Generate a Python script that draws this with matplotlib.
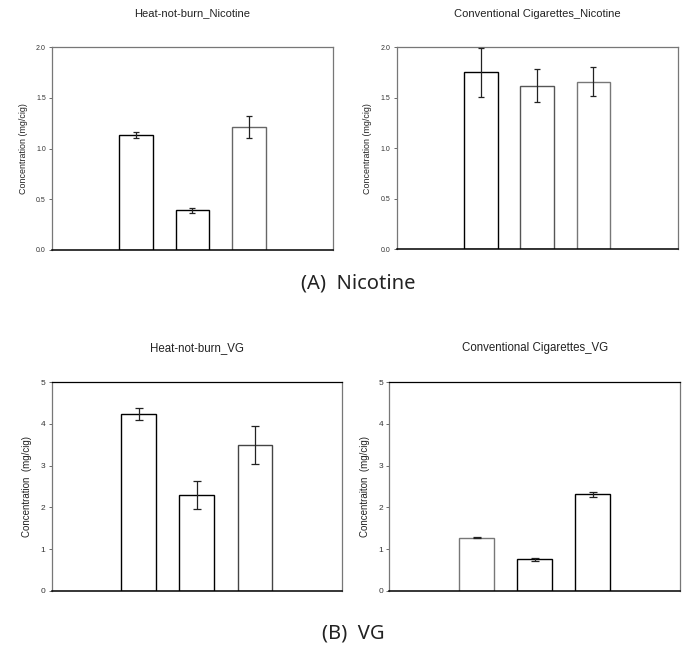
import matplotlib.pyplot as plt
import numpy as np

plt.rcParams['font.family'] = ['Liberation Sans', 'DejaVu Sans']

# données
pos = [1, 2, 3]

hnb_nic = [1.13, 0.39, 1.21]
hnb_nic_err = [0.03, 0.025, 0.11]
cc_nic = [1.75, 1.62, 1.66]
cc_nic_err = [0.245, 0.16, 0.14]

hnb_vg = [4.23, 2.29, 3.50]
hnb_vg_err = [0.14, 0.34, 0.45]
cc_vg = [1.27, 0.76, 2.31]
cc_vg_err = [0.01, 0.04, 0.05]

nic_ticks = [0.0, 0.5, 1.0, 1.5, 2.0]
vg_ticks = [0, 1, 2, 3, 4, 5]

fig = plt.figure(figsize=(6.93, 6.63), dpi=100)


def panneau(rect, val, err, titre, ylab, ticks, fmt, fs_tick, fs_lab, fs_titre, cap, edges):
    ax = fig.add_axes(rect)
    ax.bar(pos, val, width=0.6, color='white', edgecolor=edges, linewidth=1.0, zorder=2)
    ax.errorbar(pos, val, yerr=err, fmt='none', ecolor='#222222', elinewidth=0.9,
                capsize=cap, capthick=0.9, zorder=3)
    ax.set_xlim(-0.5, 4.5)
    ax.set_ylim(ticks[0], ticks[-1])
    ax.set_yticks(ticks)
    ax.set_yticklabels([fmt.format(t) for t in ticks], fontsize=fs_tick, color='#333333')
    ax.set_xticks([])
    ax.tick_params(axis='y', length=2.5, width=0.6, pad=2, color='#555555')
    ax.set_ylabel(ylab, fontsize=fs_lab, color='#222222', labelpad=6)
    ax.set_title(titre, fontsize=fs_titre, color='#222222', pad=22)
    ax.spines['bottom'].set_color('black')
    ax.spines['bottom'].set_linewidth(1.1)
    for s in ['left', 'right', 'top']:
        ax.spines[s].set_color('#777777')
        ax.spines[s].set_linewidth(0.9)
    return ax


# (A) nicotine
panneau([0.075, 0.623, 0.4055, 0.306], hnb_nic, hnb_nic_err, "Heat-not-burn_Nicotine",
        "Concentration (mg/cig)", nic_ticks, "{:.1f}", 5, 6.4, 8, 2.2,
        ['black', 'black', '#666666'])
panneau([0.5724, 0.6244, 0.4055, 0.3043], cc_nic, cc_nic_err, "Conventional Cigarettes_Nicotine",
        "Concentration (mg/cig)", nic_ticks, "{:.1f}", 5, 6.4, 8, 2.2,
        ['black', '#555555', '#777777'])

# (B) VG
ax3 = panneau([0.0746, 0.1086, 0.419, 0.3152], hnb_vg, hnb_vg_err, "Heat-not-burn_VG",
              "Concentration  (mg/cig)", vg_ticks, "{:d}", 6, 7, 8.3, 2.8,
              ['black', 'black', '#444444'])
ax3.spines['top'].set_color('black')
ax4 = panneau([0.5618, 0.1086, 0.4195, 0.3152], cc_vg, cc_vg_err, "Conventional Cigarettes_VG",
              "Concentraiton  (mg/cig)", vg_ticks, "{:d}", 6, 7, 8.3, 2.8,
              ['#777777', 'black', 'black'])
ax4.spines['top'].set_color('black')

fig.text(0.517, 1 - 283 / 663, "(A)  Nicotine", fontsize=14.5, ha='center', va='center',
         family=['Noto Sans', 'DejaVu Sans'], color='#222222')
fig.text(0.51, 1 - 634 / 663, "(B)  VG", fontsize=14.5, ha='center', va='center',
         family=['Noto Sans', 'DejaVu Sans'], color='#222222')

plt.savefig("out.png", dpi=100)
